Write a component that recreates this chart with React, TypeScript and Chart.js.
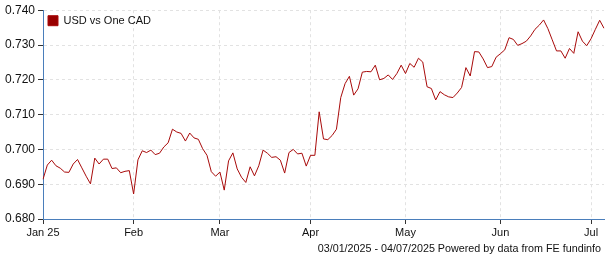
import React, { useEffect, useRef } from "react";
import { Chart, registerables } from "chart.js";

Chart.register(...registerables);

// ---- data ----
const SERIES_NAME = "USD vs One CAD";
const START_DATE = "2025-01-03";
const END_DATE = "2025-07-04";
const MONTH_TICK_LABELS = ["Jan 25", "Feb", "Mar", "Apr", "May", "Jun", "Jul"];
const FOOTER_TEXT = "03/01/2025 - 04/07/2025 Powered by data from FE fundinfo";
const Y_MIN = 0.68;
const Y_MAX = 0.74;
const Y_STEP = 0.01;

const usdPerCad = [
  0.6914, 0.6955, 0.6969, 0.6953, 0.6946, 0.6935, 0.6934, 0.6958, 0.6971, 0.6947,
  0.6923, 0.6901, 0.6975, 0.6958, 0.6972, 0.6972, 0.6945, 0.6947, 0.6933, 0.6937,
  0.6939, 0.6872, 0.6970, 0.6996, 0.6991, 0.6998, 0.6985, 0.6989, 0.7007, 0.7019,
  0.7058, 0.7050, 0.7046, 0.7024, 0.7047, 0.7033, 0.7029, 0.7002, 0.6983, 0.6936,
  0.6923, 0.6935, 0.6883, 0.6967, 0.6990, 0.6944, 0.6920, 0.6905, 0.6950, 0.6924,
  0.6953, 0.6998, 0.6989, 0.6977, 0.6979, 0.6969, 0.6932, 0.6991, 0.7000, 0.6987,
  0.6989, 0.6952, 0.6983, 0.6983, 0.7108, 0.7030, 0.7028, 0.7040, 0.7058, 0.7149,
  0.7189, 0.7210, 0.7156, 0.7174, 0.7222, 0.7224, 0.7223, 0.7242, 0.7200, 0.7204,
  0.7214, 0.7201, 0.7218, 0.7242, 0.7218, 0.7247, 0.7236, 0.7262, 0.7251, 0.7180,
  0.7175, 0.7142, 0.7166, 0.7157, 0.7151, 0.7149, 0.7162, 0.7178, 0.7235, 0.7211,
  0.7281, 0.7280, 0.7260, 0.7235, 0.7238, 0.7265, 0.7275, 0.7286, 0.7321, 0.7316,
  0.7299, 0.7304, 0.7311, 0.7326, 0.7345, 0.7357, 0.7372, 0.7347, 0.7315, 0.7283,
  0.7283, 0.7262, 0.7290, 0.7276, 0.7338, 0.7311, 0.7298, 0.7318, 0.7345, 0.7371,
  0.7348,
];

// trading-day categories (weekdays between start and end)
function tradingDays(start: string, end: string): Date[] {
  const out: Date[] = [];
  const d = new Date(start + "T00:00:00Z");
  const e = new Date(end + "T00:00:00Z");
  while (d <= e) {
    const wd = d.getUTCDay();
    if (wd !== 0 && wd !== 6) out.push(new Date(d.getTime()));
    d.setUTCDate(d.getUTCDate() + 1);
  }
  return out;
}
const dates = tradingDays(START_DATE, END_DATE);
const categories = dates.map((d) => d.toISOString().slice(0, 10));

const LINE_COLOR = "#a80a0a";
const LEGEND_FILL = "#990000";
const AXIS_COLOR = "#4a7ebb";
const GRID_COLOR = "#e2e2e2";
const FONT = "'Liberation Sans', Arial, sans-serif";

// keep the in-chart legend aligned with the top of the plot area
const legendInPlot = {
  id: "legendInPlot",
  afterLayout(chart: any) {
    const l = chart.legend;
    if (l && chart.chartArea) {
      l.top = chart.chartArea.top;
      l.bottom = chart.chartArea.bottom;
      l.left = chart.chartArea.left;
      l.right = chart.chartArea.right;
    }
  },
};

export default function App() {
  const ref = useRef<HTMLCanvasElement | null>(null);

  useEffect(() => {
    document.body.style.margin = "0";
    const canvas = ref.current;
    if (!canvas) return;
    Chart.defaults.font.family = FONT;
    Chart.defaults.font.size = 11;
    Chart.defaults.color = "#111";

    const chart = new Chart(canvas, {
      type: "line",
      data: {
        labels: categories,
        datasets: [
          {
            label: SERIES_NAME,
            data: usdPerCad,
            borderColor: LINE_COLOR,
            backgroundColor: LEGEND_FILL,
            borderWidth: 1,
            pointRadius: 0,
            tension: 0,
            fill: false,
          },
        ],
      },
      plugins: [legendInPlot],
      options: {
        animation: false,
        responsive: false,
        devicePixelRatio: 1,
        layout: { padding: { top: 9, right: 1, bottom: 19, left: 0 } },
        plugins: {
          tooltip: { enabled: false },
          legend: {
            display: true,
            position: "chartArea" as any,
            align: "start",
            labels: {
              boxWidth: 10,
              boxHeight: 10,
              padding: 5,
              color: "#111",
              font: { size: 11, family: FONT },
            },
          },
        },
        scales: {
          x: {
            type: "category",
            offset: false,
            afterFit: (s: any) => {
              s.height = 22;
            },
            grid: {
              display: true,
              color: GRID_COLOR,
              lineWidth: 1,
              drawTicks: true,
              tickLength: 5,
              tickColor: "#333",
            },
            border: { display: true, color: AXIS_COLOR, width: 1, dash: [3, 3] },
            ticks: {
              autoSkip: false,
              maxRotation: 0,
              minRotation: 0,
              padding: 2,
              color: "#111",
              font: { size: 11, family: FONT },
              callback: (_v: any, i: number) => {
                const d = dates[i];
                if (!d) return null;
                if (i === 0) return MONTH_TICK_LABELS[0];
                const prev = dates[i - 1];
                if (prev.getUTCMonth() !== d.getUTCMonth()) {
                  return MONTH_TICK_LABELS[d.getUTCMonth()];
                }
                return null;
              },
            },
          },
          y: {
            min: Y_MIN,
            max: Y_MAX,
            afterFit: (s: any) => {
              s.width = 43;
            },
            grid: {
              display: true,
              color: GRID_COLOR,
              lineWidth: 1,
              drawTicks: true,
              tickLength: 5,
              tickColor: "#333",
            },
            border: { display: true, color: AXIS_COLOR, width: 1, dash: [3, 3] },
            ticks: {
              stepSize: Y_STEP,
              padding: 3,
              color: "#111",
              font: { size: 12, family: FONT },
              callback: (v: any) => Number(v).toFixed(3),
            },
          },
        },
      },
    });
    return () => chart.destroy();
  }, []);

  return (
    <div style={{ position: "relative", width: 605, height: 260 }}>
      <canvas ref={ref} width={605} height={260} style={{ display: "block" }} />
      <div
        style={{
          position: "absolute",
          right: 4,
          top: 242,
          fontFamily: FONT,
          fontSize: 10.75,
          lineHeight: "13px",
          color: "#111",
          whiteSpace: "nowrap",
        }}
      >
        {FOOTER_TEXT}
      </div>
    </div>
  );
}
